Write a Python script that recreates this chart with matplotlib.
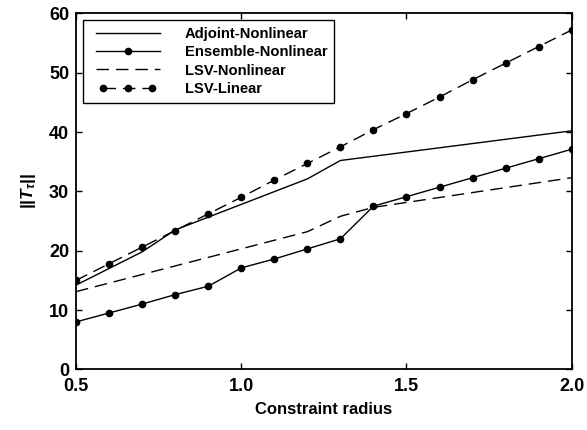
import matplotlib
matplotlib.use("Agg")
import matplotlib.pyplot as plt
from matplotlib.legend_handler import HandlerLine2D

# data
radius = [0.5, 0.6, 0.7, 0.8, 0.9, 1.0, 1.1, 1.2, 1.3, 1.4, 1.5, 1.6, 1.7, 1.8, 1.9, 2.0]
ensemble_nl = [8.0, 9.5, 11.0, 12.6, 14.0, 17.1, 18.6, 20.3, 22.0, 27.5, 29.1, 30.7, 32.3, 33.9, 35.5, 37.1]
lsv_linear = [15.0, 17.8, 20.6, 23.4, 26.2, 29.0, 31.9, 34.7, 37.5, 40.4, 43.1, 45.9, 48.8, 51.6, 54.4, 57.2]

adj_radius = [0.5, 0.7, 0.8, 1.2, 1.3, 2.0]
adjoint_nl = [14.2, 19.8, 23.5, 32.1, 35.2, 40.2]

lsvnl_radius = [0.5, 1.2, 1.3, 1.4, 2.0]
lsv_nl = [13.1, 23.2, 25.8, 27.3, 32.3]

x_ticks = [0.5, 1.0, 1.5, 2.0]
y_ticks = [0, 10, 20, 30, 40, 50, 60]

plt.rcParams['font.family'] = ['Liberation Sans', 'DejaVu Sans']
plt.rcParams['mathtext.fontset'] = 'custom'
plt.rcParams['mathtext.rm'] = 'Liberation Sans:bold'
plt.rcParams['mathtext.it'] = 'Liberation Sans:italic:bold'

fig = plt.figure(figsize=(5.87, 4.30), dpi=100)
ax = fig.add_axes([0.1295, 0.141, 0.8445, 0.828])

dash = (0, (9, 5))
l1, = ax.plot(adj_radius, adjoint_nl, color='black', lw=1.0, label='Adjoint-Nonlinear')
l2, = ax.plot(radius, ensemble_nl, color='black', lw=1.0, marker='o', ms=4.5,
              label='Ensemble-Nonlinear')
l3, = ax.plot(lsvnl_radius, lsv_nl, color='black', lw=1.0, linestyle=dash, label='LSV-Nonlinear')
l4, = ax.plot(radius, lsv_linear, color='black', lw=1.0, linestyle=dash, marker='o', ms=4.5,
              label='LSV-Linear')

ax.set_xlim(0.5, 2.0)
ax.set_ylim(0, 60)
ax.set_xticks(x_ticks)
ax.set_xticklabels(['%.1f' % v for v in x_ticks])
ax.set_yticks(y_ticks)
ax.tick_params(direction='in', length=4, width=1, top=True, right=True,
               labelsize=13)
ax.tick_params(axis='x', pad=6)
ax.tick_params(axis='y', pad=5)
for lab in ax.get_xticklabels() + ax.get_yticklabels():
    lab.set_fontweight('bold')
for sp in ax.spines.values():
    sp.set_linewidth(1.3)

ax.set_xlabel('Constraint radius', fontsize=12, fontweight='bold', labelpad=5)
ax.set_ylabel(r'||$T_\tau$||', fontsize=12.5, fontweight='bold', labelpad=8)

# handles sit a bit in from the frame, like the original
hmap = {l1: HandlerLine2D(xpad=0.44),
        l2: HandlerLine2D(xpad=0.44),
        l3: HandlerLine2D(xpad=0.44),
        l4: HandlerLine2D(xpad=0.44, numpoints=3, marker_pad=0.5)}
leg = ax.legend(loc='upper left', bbox_to_anchor=(0.0135, 0.981), borderaxespad=0,
                handlelength=4.78, handletextpad=1.7, borderpad=0.45, labelspacing=0.3,
                fancybox=False, edgecolor='black', framealpha=1,
                prop={'weight': 'bold', 'size': 10.6}, handler_map=hmap)
leg.get_frame().set_linewidth(1.0)

fig.savefig('out.png', dpi=100)
